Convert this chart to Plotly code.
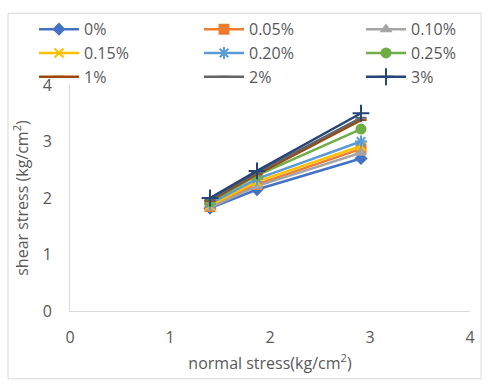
import plotly.graph_objects as go

normal_stress = [1.4, 1.87, 2.91]
series_names = ["0%", "0.05%", "0.10%", "0.15%", "0.20%", "0.25%", "1%", "2%", "3%"]
shear_0 = [1.82, 2.15, 2.70]
shear_005 = [1.85, 2.24, 2.87]
shear_010 = [1.83, 2.21, 2.80]
shear_015 = [1.87, 2.29, 2.92]
shear_020 = [1.90, 2.34, 3.00]
shear_025 = [1.93, 2.40, 3.22]
shear_1 = [1.95, 2.42, 3.38]
shear_2 = [1.97, 2.45, 3.42]
shear_3 = [2.00, 2.48, 3.50]
all_shear = [shear_0, shear_005, shear_010, shear_015, shear_020, shear_025, shear_1, shear_2, shear_3]

colors = ["#4472C4", "#ED7D31", "#A5A5A5", "#FFC000", "#5B9BD5", "#70AD47", "#9E480E", "#636363", "#264478"]
symbols = ["diamond", "square", "triangle-up", "x-thin-open", "asterisk-open", "circle",
           "line-ew-open", "line-ew-open", "cross-thin-open"]
sizes = [8, 9, 8, 9, 10, 9, 8, 8, 12]
legend_ids = ["legend", "legend2", "legend3"]

fig = go.Figure()
for i, (name, ys, c, s, sz) in enumerate(zip(series_names, all_shear, colors, symbols, sizes)):
    fig.add_trace(go.Scatter(
        x=normal_stress, y=ys, name=name, mode="lines+markers",
        line=dict(color=c, width=2.5),
        marker=dict(symbol=s, size=sz, color=c, line=dict(color=c, width=2)),
        legend=legend_ids[i % 3],
    ))

font = "Open Sans, Liberation Sans, Arial, sans-serif"
grey = "#595959"

def leg(xpos):
    return dict(
        orientation="v", x=xpos, xanchor="left", y=1.322, yanchor="top",
        font=dict(family=font, size=16, color=grey),
        bgcolor="rgba(0,0,0,0)", tracegroupgap=0, itemwidth=40,
    )

fig.update_layout(
    width=488, height=385,
    margin=dict(l=70, r=18, t=81, b=74),
    paper_bgcolor="white", plot_bgcolor="white",
    font=dict(family=font, size=16, color=grey),
    showlegend=True,
    legend=leg(-0.09),
    legend2=leg(0.3225),
    legend3=leg(0.7275),
    xaxis=dict(
        range=[0, 4], dtick=1, tick0=0, showgrid=False, zeroline=False,
        showline=True, linecolor="#D9D9D9", linewidth=1, ticks="",
        tickfont=dict(size=16, color=grey),
        ticklabelstandoff=12,
        title=dict(text="normal stress(kg/cm<sup>2</sup>)", font=dict(size=16, color=grey), standoff=10),
    ),
    yaxis=dict(
        range=[0, 4], dtick=1, tick0=0, showgrid=False, zeroline=False,
        showline=True, linecolor="#D9D9D9", linewidth=1, ticks="",
        tickfont=dict(size=16, color=grey),
        ticklabelstandoff=14,
        title=dict(text="shear stress (kg/cm<sup>2</sup>)", font=dict(size=16, color=grey), standoff=10),
    ),
    shapes=[dict(type="rect", xref="paper", yref="paper",
                 x0=-0.155, x1=1.0275, y0=-0.3, y1=1.317,
                 line=dict(color="#D9D9D9", width=1), fillcolor="rgba(0,0,0,0)", layer="below")],
)

fig.write_html("out.html")
